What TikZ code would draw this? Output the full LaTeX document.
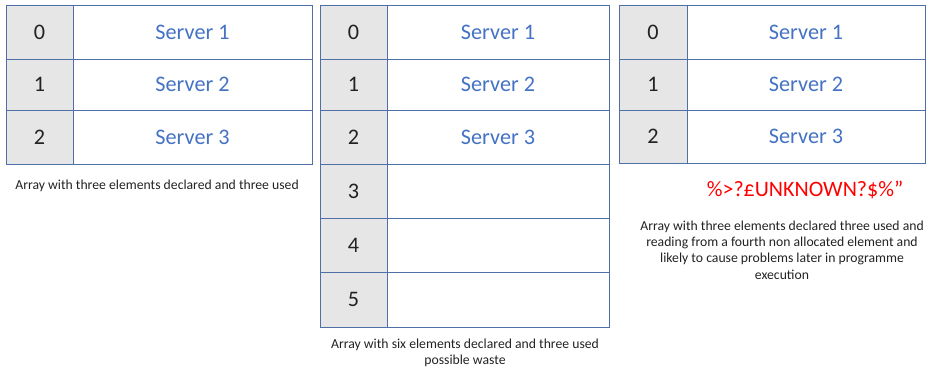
\documentclass[tikz,border=0pt]{standalone}
\usepackage{fontspec}
\setmainfont{Carlito}
\definecolor{bordc}{HTML}{4F6FA8}
\definecolor{idxfill}{HTML}{E7E6E6}
\definecolor{srvblue}{HTML}{4472C4}
\definecolor{captxtc}{HTML}{222222}
\begin{document}
\begin{tikzpicture}[x=1pt,y=-1pt,
  cell/.style={draw=bordc,line width=0.9pt,rectangle,inner sep=0pt,outer sep=0pt,anchor=north west,font=\fontsize{22.2}{25}\selectfont},
  idx/.style={cell,fill=idxfill,text=captxtc},
  val/.style={cell,fill=white,text=srvblue},
  captext/.style={font=\fontsize{13.7}{16.3}\selectfont,text=captxtc,align=center,inner sep=0pt}]
\useasboundingbox (0,0) rectangle (940,388);
% Table 1
\node[idx,minimum width=67,minimum height=54] (a0) at (6,5) {0};
\node[val,minimum width=239,minimum height=54] (av0) at (73,5) {Server 1};
\node[idx,minimum width=67,minimum height=51] (a1) at (6,59) {1};
\node[val,minimum width=239,minimum height=51] (av1) at (73,59) {Server 2};
\node[idx,minimum width=67,minimum height=54] (a2) at (6,110) {2};
\node[val,minimum width=239,minimum height=54] (av2) at (73,110) {Server 3};
\node[captext] (capa) at (157,186) {Array with three elements declared and three used};
% Table 2
\node[idx,minimum width=67,minimum height=54] (b0) at (320,5) {0};
\node[val,minimum width=222,minimum height=54] (bv0) at (387,5) {Server 1};
\node[idx,minimum width=67,minimum height=51] (b1) at (320,59) {1};
\node[val,minimum width=222,minimum height=51] (bv1) at (387,59) {Server 2};
\node[idx,minimum width=67,minimum height=54] (b2) at (320,110) {2};
\node[val,minimum width=222,minimum height=54] (bv2) at (387,110) {Server 3};
\node[idx,minimum width=67,minimum height=54] (b3) at (320,164) {3};
\node[val,minimum width=222,minimum height=54] (bv3) at (387,164) {};
\node[idx,minimum width=67,minimum height=54] (b4) at (320,218) {4};
\node[val,minimum width=222,minimum height=54] (bv4) at (387,218) {};
\node[idx,minimum width=67,minimum height=55] (b5) at (320,272) {5};
\node[val,minimum width=222,minimum height=55] (bv5) at (387,272) {};
\node[captext] (capb) at (465,352.5) {Array with six elements declared and three used\\possible waste};
% Table 3
\node[idx,minimum width=68,minimum height=54] (c0) at (619,5) {0};
\node[val,minimum width=238,minimum height=54] (cv0) at (687,5) {Server 1};
\node[idx,minimum width=68,minimum height=51] (c1) at (619,59) {1};
\node[val,minimum width=238,minimum height=51] (cv1) at (687,59) {Server 2};
\node[idx,minimum width=68,minimum height=53] (c2) at (619,110) {2};
\node[val,minimum width=238,minimum height=53] (cv2) at (687,110) {Server 3};
\node[text=red,font=\fontsize{22}{25}\selectfont,inner sep=0pt] (unk) at (805,190) {\%>?£UNKNOWN?\$\%”};
\node[captext] (capcc) at (782,250) {Array with three elements declared three used and\\reading from a fourth non allocated element and\\likely to cause problems later in programme\\execution};
\end{tikzpicture}
\end{document}
